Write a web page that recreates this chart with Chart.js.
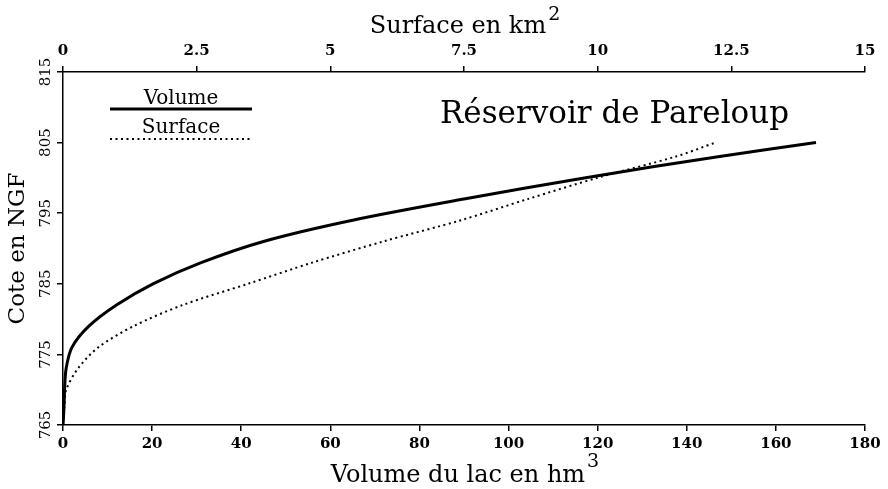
<!DOCTYPE html>
<html lang="fr">
<head>
    <meta charset="UTF-8" />
    <title>Réservoir de Pareloup</title>
    <script src="https://cdn.jsdelivr.net/npm/chart.js"></script>
    <style>
        html, body { margin: 0; padding: 0; background: #fff; }
        #cadre { width: 888px; height: 489px; }
    </style>
</head>
<body>
    <div id="cadre"><canvas id="graficoCote"></canvas></div>

    <script>
        // Cote du plan d'eau (m NGF)
        const cotes = [765, 766, 768, 770, 773, 776, 779, 782, 785, 788, 791, 794, 797, 800, 803, 805];
        // Volume du lac (hm3) pour chaque cote
        const volumes = [0, 0.1, 0.25, 0.35, 0.7, 2.0, 5.8, 12, 20.2, 31, 45, 65, 90, 117, 147, 169];
        // Surface du lac (km2) pour chaque cote
        const surfaces = [0, 0.01, 0.03, 0.06, 0.28, 0.66, 1.32, 2.24, 3.46, 4.66, 5.99, 7.44, 8.69, 9.99, 11.45, 12.2];

        const ticksVolume = [0, 20, 40, 60, 80, 100, 120, 140, 160, 180];
        const ticksSurface = ['0', '2.5', '5', '7.5', '10', '12.5', '15'];
        const ticksCote = [765, 775, 785, 795, 805, 815];

        const titre = 'Réservoir de Pareloup';
        const legende = ['Volume', 'Surface'];
        const titreVolume = ['Volume du lac en hm', '3'];
        const titreSurface = ['Surface en km', '2'];

        const police = "'DejaVu Serif', 'Liberation Serif', serif";

        // texte avec exposant, centré sur cx
        function texteExposant(ctx, parts, cx, base, taille, tailleExp, montee) {
            ctx.font = taille + 'px ' + police;
            const w1 = ctx.measureText(parts[0]).width;
            ctx.font = tailleExp + 'px ' + police;
            const w2 = ctx.measureText(parts[1]).width;
            const x0 = cx - (w1 + w2) / 2;
            ctx.textAlign = 'left';
            ctx.textBaseline = 'alphabetic';
            ctx.font = taille + 'px ' + police;
            ctx.fillText(parts[0], x0, base);
            ctx.font = tailleExp + 'px ' + police;
            ctx.fillText(parts[1], x0 + w1 + 2, base - montee);
        }

        // textes libres : titres d'axes, titre, légende, étiquettes de cote tournées
        const textesLibres = {
            id: 'textesLibres',
            afterDraw(chart) {
                const ctx = chart.ctx;
                const ys = chart.scales.y;
                const area = chart.chartArea;
                const cx = (area.left + area.right) / 2;
                ctx.save();
                ctx.fillStyle = '#000';

                // étiquettes de l'axe des cotes, écrites de bas en haut
                ctx.font = '15px ' + police;
                ctx.textAlign = 'center';
                ctx.textBaseline = 'middle';
                ticksCote.forEach(v => {
                    const py = ys.getPixelForValue(v);
                    ctx.save();
                    ctx.translate(46, py);
                    ctx.rotate(-Math.PI / 2);
                    ctx.fillText(String(v), 0, 0);
                    ctx.restore();
                });

                // titres des axes horizontaux
                texteExposant(ctx, titreVolume, cx, 482, 24, 19, 15);
                texteExposant(ctx, titreSurface, cx, 33, 24, 19, 13);

                // titre
                ctx.font = '31px ' + police;
                ctx.textAlign = 'left';
                ctx.textBaseline = 'alphabetic';
                ctx.fillText(titre, 440, 123);

                // légende
                ctx.font = '20px ' + police;
                ctx.textAlign = 'center';
                ctx.fillText(legende[0], 181, 104);
                ctx.fillText(legende[1], 181, 133);

                ctx.strokeStyle = '#000';
                ctx.lineWidth = 3;
                ctx.beginPath();
                ctx.moveTo(110, 109);
                ctx.lineTo(252, 109);
                ctx.stroke();

                ctx.lineWidth = 2;
                ctx.setLineDash([2, 3.5]);
                ctx.beginPath();
                ctx.moveTo(110, 139);
                ctx.lineTo(252, 139);
                ctx.stroke();
                ctx.restore();
            }
        };

        const ctx = document.getElementById('graficoCote').getContext('2d');
        new Chart(ctx, {
            type: 'line',
            data: {
                datasets: [
                    {
                        label: legende[0],
                        data: volumes.map((v, i) => ({ x: v, y: cotes[i] })),
                        xAxisID: 'x',
                        yAxisID: 'y',
                        borderColor: '#000',
                        borderWidth: 3,
                        pointRadius: 0,
                        fill: false,
                        tension: 0.3
                    },
                    {
                        label: legende[1],
                        data: surfaces.map((s, i) => ({ x: s, y: cotes[i] })),
                        xAxisID: 'x2',
                        yAxisID: 'y',
                        borderColor: '#000',
                        borderWidth: 2,
                        borderDash: [2, 3.5],
                        pointRadius: 0,
                        fill: false,
                        tension: 0.3
                    }
                ]
            },
            options: {
                responsive: true,
                maintainAspectRatio: false,
                animation: false,
                layout: { padding: { left: 0, right: 23, top: 0, bottom: 0 } },
                plugins: {
                    legend: { display: false },
                    tooltip: { enabled: false }
                },
                scales: {
                    x: {
                        type: 'linear',
                        position: 'bottom',
                        min: 0,
                        max: 180,
                        afterBuildTicks: s => { s.ticks = ticksVolume.map(v => ({ value: v })); },
                        afterFit: s => { s.height = 64; },
                        ticks: {
                            color: '#000',
                            font: { family: police, size: 15, weight: 'bold' },
                            padding: 4,
                            maxRotation: 0,
                            autoSkip: false
                        },
                        grid: { drawOnChartArea: false, drawTicks: true, tickLength: 6, color: '#000', lineWidth: 1.5 },
                        border: { display: true, color: '#000', width: 1.5 }
                    },
                    x2: {
                        type: 'linear',
                        position: 'top',
                        min: 0,
                        max: 15,
                        afterBuildTicks: s => { s.ticks = ticksSurface.map(v => ({ value: parseFloat(v) })); },
                        afterFit: s => { s.height = 72; },
                        ticks: {
                            color: '#000',
                            font: { family: police, size: 15, weight: 'bold' },
                            padding: 6,
                            maxRotation: 0,
                            autoSkip: false,
                            callback: v => ticksSurface.find(t => parseFloat(t) === v) || String(v)
                        },
                        grid: { drawOnChartArea: false, drawTicks: true, tickLength: 6, color: '#000', lineWidth: 1.5 },
                        border: { display: true, color: '#000', width: 1.5 }
                    },
                    y: {
                        type: 'linear',
                        position: 'left',
                        min: 765,
                        max: 815,
                        afterBuildTicks: s => { s.ticks = ticksCote.map(v => ({ value: v })); },
                        afterFit: s => { s.width = 63; },
                        ticks: { display: false },
                        grid: { drawOnChartArea: false, drawTicks: true, tickLength: 6, color: '#000', lineWidth: 1.5 },
                        border: { display: true, color: '#000', width: 1.5 },
                        title: {
                            display: true,
                            text: 'Cote en NGF',
                            color: '#000',
                            font: { family: police, size: 23 },
                            padding: { top: 4, bottom: 0 }
                        }
                    }
                }
            },
            plugins: [textesLibres]
        });
    </script>
</body>
</html>
